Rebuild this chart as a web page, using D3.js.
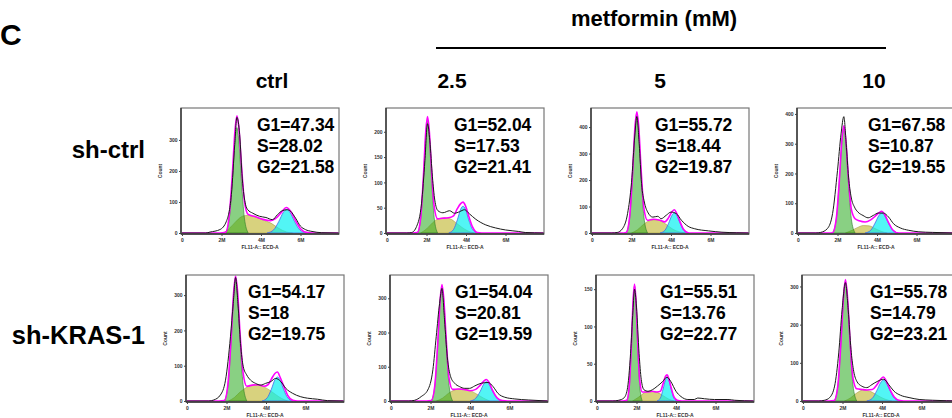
<!DOCTYPE html>
<html>
<head>
<meta charset="utf-8">
<script src="https://cdn.jsdelivr.net/npm/d3@7"></script>
<style>
body { margin: 0; background: #fff; }
svg { display: block; font-family: Arial, "Liberation Sans", Helvetica, sans-serif; }
</style>
</head>
<body>
<svg id="chart" width="952" height="418"></svg>
<script>
// labels
var rowNames = ["sh-ctrl", "sh-KRAS-1"];
var doseNames = ["ctrl", "2.5", "5", "10"];

// panel order: sh-ctrl ctrl/2.5/5/10, then sh-KRAS-1 ctrl/2.5/5/10
var g1Text = ["47.34", "52.04", "55.72", "67.58", "54.17", "54.04", "55.51", "55.78"];
var sText  = ["28.02", "17.53", "18.44", "10.87", "18", "20.81", "13.76", "14.79"];
var g2Text = ["21.58", "21.41", "19.87", "19.55", "19.75", "19.59", "22.77", "23.21"];

// axes
var yMax = [403, 247, 472, 420, 357, 368, 169, 330];
var yTicks = [[0, 100, 200, 300], [0, 50, 100, 150, 200], [0, 100, 200, 300, 400], [0, 100, 200, 300, 400],
              [0, 100, 200, 300], [0, 100, 200, 300], [0, 50, 100, 150], [0, 100, 200, 300]];
var xTicks = [0, 2, 4, 6];          // millions, FL11-A
var xTickLabels = ["0", "2M", "4M", "6M"];

// measured histogram (black), [FL11-A in M, count]
var histCounts = [
 [[0,0],[1.2,0],[1.42,3],[1.92,11],[2.25,38],[2.5,124],[2.67,285],[2.78,373],[2.92,317],[3.05,177],[3.22,91],[3.33,75],[3.58,64],[3.92,54],[4.25,50],[4.58,43],[4.83,59],[5.08,72],[5.33,75],[5.5,70],[5.75,48],[6.0,22],[6.25,11],[6.58,5],[7.08,1],[7.95,0]],
 [[0,0],[1.0,0],[1.25,1],[1.5,13],[1.75,59],[1.92,143],[2.05,216],[2.17,182],[2.3,111],[2.42,65],[2.58,44],[2.83,40],[3.17,44],[3.42,39],[3.67,42],[3.92,46],[4.17,38],[4.5,27],[5.0,16],[5.5,10],[6.0,6],[6.67,3],[7.0,1],[7.95,0]],
 [[0,0],[1.0,0],[1.28,2],[1.54,16],[1.8,73],[2.0,190],[2.17,370],[2.27,440],[2.39,337],[2.51,186],[2.65,117],[2.82,79],[3.08,60],[3.33,63],[3.5,54],[3.76,67],[4.0,79],[4.27,73],[4.53,48],[4.87,25],[5.2,16],[5.9,8],[6.58,3],[7.3,1],[7.95,0]],
 [[0,0],[0.9,0],[1.15,2],[1.49,15],[1.75,65],[2.0,210],[2.18,333],[2.32,391],[2.44,300],[2.56,188],[2.69,121],[2.86,87],[3.04,70],[3.29,59],[3.55,51],[3.81,59],[4.07,67],[4.32,67],[4.58,54],[4.84,31],[5.18,17],[5.61,9],[6.12,4],[6.8,2],[7.95,0]],
 [[0,0],[1.1,0],[1.36,3],[1.69,17],[1.95,59],[2.2,182],[2.34,276],[2.46,350],[2.58,276],[2.71,163],[2.85,97],[3.02,74],[3.22,59],[3.47,50],[3.73,45],[3.98,50],[4.24,55],[4.49,64],[4.75,55],[5.0,36],[5.34,22],[5.76,12],[6.1,8],[6.61,5],[7.12,1],[7.95,0]],
 [[0,0],[0.9,0],[1.19,2],[1.53,13],[1.86,32],[2.12,91],[2.29,188],[2.46,285],[2.58,329],[2.71,237],[2.85,129],[3.02,71],[3.22,52],[3.47,42],[3.73,37],[3.98,37],[4.24,44],[4.58,52],[4.92,54],[5.17,42],[5.42,22],[5.76,11],[6.27,6],[6.95,3],[7.95,0]],
 [[0,0],[0.8,0],[1.1,1],[1.36,4],[1.53,15],[1.7,64],[1.82,121],[1.9,150],[2.0,126],[2.13,64],[2.24,29],[2.38,15],[2.58,13],[2.8,15],[3.06,20],[3.32,26],[3.54,32],[3.74,26],[4.0,13],[4.25,6],[4.6,2],[4.93,2],[5.1,4],[5.44,3],[5.95,2],[6.63,2],[6.97,1],[7.95,0]],
 [[0,0],[0.8,0],[1.09,2],[1.35,9],[1.6,39],[1.81,126],[1.98,239],[2.15,310],[2.29,239],[2.43,135],[2.55,83],[2.72,52],[2.97,39],[3.23,35],[3.49,43],[3.79,52],[4.09,57],[4.34,43],[4.6,26],[4.94,15],[5.37,9],[5.88,4],[6.56,2],[7.95,0]]
];

// fitted cell-cycle model
var g1Fit = [
 [[2.21,0],[2.40,48],[2.55,167],[2.685,299],[2.78,340],[2.875,299],[3.01,167],[3.16,48],[3.35,0]],
 [[1.54,0],[1.71,30],[1.846,109],[1.965,195],[2.05,222],[2.135,195],[2.254,109],[2.39,30],[2.56,0]],
 [[1.73,0],[1.91,60],[2.054,219],[2.18,393],[2.27,448],[2.36,393],[2.486,219],[2.63,60],[2.81,0]],
 [[1.75,0],[1.94,48],[2.092,174],[2.225,312],[2.32,355],[2.415,312],[2.548,174],[2.70,48],[2.89,0]],
 [[1.89,0],[2.08,47],[2.232,169],[2.365,302],[2.46,344],[2.555,302],[2.688,169],[2.84,47],[3.03,0]],
 [[2.04,0],[2.22,45],[2.364,164],[2.49,293],[2.58,334],[2.67,293],[2.796,164],[2.94,45],[3.12,0]],
 [[1.51,0],[1.64,21],[1.744,76],[1.835,136],[1.9,154],[1.965,136],[2.056,76],[2.16,21],[2.29,0]],
 [[1.58,0],[1.77,42],[1.922,153],[2.055,273],[2.15,312],[2.245,273],[2.378,153],[2.53,42],[2.72,0]]
];
var sFit = [
 [[2.1,0],[2.4,15],[2.7,35],[3.0,52],[3.3,57],[3.7,52],[4.1,42],[4.5,32],[4.9,15],[5.3,3],[5.6,0]],
 [[1.7,0],[2.0,8],[2.3,20],[2.6,28],[2.9,30],[3.2,28],[3.5,20],[3.8,11],[4.1,4],[4.4,0]],
 [[2.0,0],[2.3,12],[2.6,32],[2.9,46],[3.2,50],[3.5,45],[3.8,30],[4.1,14],[4.4,5],[4.7,0]],
 [[2.4,0],[2.7,8],[3.0,18],[3.3,25],[3.6,24],[3.9,15],[4.2,6],[4.5,0]],
 [[2.1,0],[2.4,10],[2.7,26],[3.0,38],[3.3,45],[3.6,46],[3.9,40],[4.2,30],[4.5,18],[4.8,7],[5.1,0]],
 [[2.3,0],[2.6,8],[2.9,22],[3.2,32],[3.5,35],[3.8,34],[4.1,28],[4.4,18],[4.7,8],[5.0,0]],
 [[1.8,0],[2.1,5],[2.4,11],[2.7,13],[3.0,12],[3.3,8],[3.6,3],[3.9,0]],
 [[2.1,0],[2.4,8],[2.7,20],[3.0,28],[3.3,27],[3.6,20],[3.9,11],[4.2,4],[4.5,0]]
];
var g2Fit = [
 [[4.31,0],[4.64,10],[4.90,37],[5.135,67],[5.3,76],[5.465,67],[5.70,37],[5.96,10],[6.29,0]],
 [[3.13,0],[3.37,7],[3.562,26],[3.73,47],[3.85,53],[3.97,47],[4.138,26],[4.33,7],[4.57,0]],
 [[3.45,0],[3.69,10],[3.88,37],[4.05,67],[4.17,76],[4.29,67],[4.46,37],[4.65,10],[4.89,0]],
 [[3.40,0],[3.68,9],[3.90,33],[4.10,59],[4.24,67],[4.38,59],[4.58,33],[4.80,9],[5.08,0]],
 [[3.80,0],[4.06,9],[4.268,33],[4.45,60],[4.58,68],[4.71,60],[4.892,33],[5.10,9],[5.36,0]],
 [[4.02,0],[4.29,8],[4.506,27],[4.695,49],[4.83,56],[4.965,49],[5.154,27],[5.37,8],[5.64,0]],
 [[3.04,0],[3.21,4],[3.346,16],[3.465,28],[3.55,32],[3.635,28],[3.754,16],[3.89,4],[4.06,0]],
 [[3.23,0],[3.51,7],[3.734,27],[3.93,48],[4.07,55],[4.21,48],[4.406,27],[4.63,7],[4.91,0]]
];
var totalFit = [
 [[0,0],[1.9,0],[2.2,2],[2.4,62],[2.55,190],[2.685,332],[2.78,378],[2.875,342],[3.01,218],[3.16,103],[3.35,60],[3.7,53],[4.1,44],[4.5,40],[4.8,50],[5.05,68],[5.28,82],[5.5,70],[5.75,40],[6.0,14],[6.3,2],[6.6,0],[7.95,0]],
 [[0,0],[1.3,0],[1.54,1],[1.71,32],[1.846,113],[1.965,202],[2.05,230],[2.135,205],[2.254,125],[2.39,52],[2.56,28],[2.8,29],[3.1,30],[3.37,34],[3.56,48],[3.73,58],[3.85,61],[3.97,54],[4.14,33],[4.33,12],[4.57,1],[4.8,0],[7.95,0]],
 [[0,0],[1.5,0],[1.73,2],[1.91,64],[2.054,228],[2.18,405],[2.27,458],[2.36,408],[2.486,240],[2.63,92],[2.81,48],[3.1,52],[3.45,48],[3.69,42],[3.88,58],[4.05,80],[4.17,88],[4.29,74],[4.46,42],[4.65,12],[4.9,0],[7.95,0]],
 [[0,0],[1.5,0],[1.75,1],[1.94,49],[2.092,176],[2.225,314],[2.32,360],[2.415,318],[2.548,190],[2.70,80],[2.89,48],[3.1,41],[3.4,37],[3.68,44],[3.9,56],[4.1,68],[4.24,73],[4.38,63],[4.58,36],[4.80,10],[5.08,0],[7.95,0]],
 [[0,0],[1.6,0],[1.89,1],[2.08,52],[2.232,176],[2.365,310],[2.46,354],[2.555,314],[2.688,190],[2.84,80],[3.03,42],[3.3,45],[3.6,46],[3.9,42],[4.1,46],[4.27,62],[4.45,78],[4.58,82],[4.71,68],[4.9,42],[5.1,16],[5.36,2],[5.6,0],[7.95,0]],
 [[0,0],[1.8,0],[2.04,1],[2.22,46],[2.364,166],[2.49,296],[2.58,340],[2.67,300],[2.796,180],[2.94,66],[3.12,34],[3.4,35],[3.7,34],[4.0,30],[4.29,34],[4.5,45],[4.7,58],[4.83,63],[4.965,54],[5.15,30],[5.37,9],[5.64,1],[5.9,0],[7.95,0]],
 [[0,0],[1.3,0],[1.51,1],[1.64,22],[1.744,78],[1.835,138],[1.9,157],[1.965,139],[2.056,82],[2.16,29],[2.29,12],[2.5,12],[2.8,13],[3.04,12],[3.21,13],[3.346,23],[3.465,33],[3.55,35],[3.635,30],[3.754,18],[3.89,6],[4.06,1],[4.3,0],[7.95,0]],
 [[0,0],[1.3,0],[1.58,1],[1.77,43],[1.922,155],[2.055,276],[2.15,318],[2.245,278],[2.378,162],[2.53,60],[2.72,32],[3.0,30],[3.23,29],[3.51,30],[3.734,42],[3.93,57],[4.07,63],[4.21,53],[4.406,30],[4.63,10],[4.91,1],[5.1,0],[7.95,0]]
];

// layout
var panelLeft = [181, 386, 591, 797, 186, 390, 596, 802];
var panelTop  = [108, 108, 108, 108, 275, 275, 275, 275];
var panelH    = [126, 126, 126, 126, 127, 127, 127, 127];
var panelW    = 158;
var labelDx   = [76, 68, 64, 71, 62, 65, 64, 68];

var svg = d3.select("#chart");

// figure letter + header
svg.append("text").attr("x", 0).attr("y", 45)
  .style("font-size", "30px").style("font-weight", "bold").text("C");

svg.append("text").attr("x", 654).attr("y", 26).attr("text-anchor", "middle")
  .style("font-size", "22px").style("font-weight", "bold").text("metformin (mM)");
svg.append("line").attr("x1", 436).attr("x2", 886).attr("y1", 48).attr("y2", 48)
  .attr("stroke", "#000").attr("stroke-width", 2);

var headX = [272, 452, 660, 874];
svg.selectAll(".dose").data(doseNames).enter().append("text")
  .attr("class", "dose")
  .attr("x", function(d, i) { return headX[i]; })
  .attr("y", 88)
  .attr("text-anchor", "middle")
  .style("font-size", "21px").style("font-weight", "bold")
  .text(function(d) { return d; });

var rowY = [158, 344];
var rowSize = [24, 25.5];
svg.selectAll(".row").data(rowNames).enter().append("text")
  .attr("class", "row")
  .attr("x", 145)
  .attr("y", function(d, i) { return rowY[i]; })
  .attr("text-anchor", "end")
  .style("font-size", function(d, i) { return rowSize[i] + "px"; })
  .style("font-weight", "bold")
  .text(function(d) { return d; });

var x = d3.scaleLinear().domain([0, 8]).range([1, panelW + 1]);

for (var i = 0; i < 8; i++) {
  var h = panelH[i];
  var y = d3.scaleLinear().domain([0, yMax[i]]).range([h - 1, 0]);
  var g = svg.append("g").attr("transform", "translate(" + panelLeft[i] + "," + panelTop[i] + ")");

  g.append("clipPath").attr("id", "clip" + i)
    .append("rect").attr("x", 0).attr("y", 0).attr("width", panelW).attr("height", h);

  var area = d3.area()
    .x(function(d) { return x(d[0]); })
    .y0(y(0))
    .y1(function(d) { return y(d[1]); })
    .curve(d3.curveMonotoneX);
  var line = d3.line()
    .x(function(d) { return x(d[0]); })
    .y(function(d) { return y(d[1]); })
    .curve(d3.curveMonotoneX);

  var plot = g.append("g").attr("clip-path", "url(#clip" + i + ")");
  plot.append("path").datum(sFit[i]).attr("d", area)
    .attr("fill", "rgb(190,180,40)").attr("fill-opacity", 0.6)
    .attr("stroke", "#9a9030").attr("stroke-width", 0.5);
  plot.append("path").datum(g1Fit[i]).attr("d", area)
    .attr("fill", "rgb(40,170,30)").attr("fill-opacity", 0.55)
    .attr("stroke", "#2d7a28").attr("stroke-width", 0.6);
  plot.append("path").datum(g2Fit[i]).attr("d", area)
    .attr("fill", "rgb(0,240,240)").attr("fill-opacity", 0.68)
    .attr("stroke", "#4a66e8").attr("stroke-width", 0.8);
  plot.append("path").datum(totalFit[i]).attr("d", line)
    .attr("fill", "none").attr("stroke", "#ff00ff").attr("stroke-width", 1.6);
  plot.append("path").datum(histCounts[i]).attr("d", line)
    .attr("fill", "none").attr("stroke", "#1a1a1a").attr("stroke-width", 1);

  // frame
  g.append("rect").attr("x", 0).attr("y", 0).attr("width", panelW).attr("height", h)
    .attr("fill", "none").attr("stroke", "#777").attr("stroke-width", 1.2);
  g.append("line").attr("x1", 0).attr("x2", 0).attr("y1", 0).attr("y2", h)
    .attr("stroke", "#333").attr("stroke-width", 1.4);
  g.append("line").attr("x1", 0).attr("x2", panelW).attr("y1", h).attr("y2", h)
    .attr("stroke", "#333").attr("stroke-width", 1.4);

  // axes
  var ya = g.append("g").call(d3.axisLeft(y).tickValues(yTicks[i]).tickSize(2).tickPadding(1.5));
  var xa = g.append("g").attr("transform", "translate(0," + h + ")")
    .call(d3.axisBottom(x).tickValues(xTicks).tickSize(2).tickPadding(2)
      .tickFormat(function(d, k) { return xTickLabels[k]; }));
  [ya, xa].forEach(function(a) {
    a.select(".domain").remove();
    a.selectAll("line").attr("stroke", "#444");
    a.selectAll("text").attr("fill", "#333").style("font-size", "5px").style("font-weight", "bold");
    a.attr("font-size", null);
  });

  g.append("text").attr("transform", "translate(-19," + (h / 2) + ") rotate(-90)")
    .attr("text-anchor", "middle").attr("fill", "#333")
    .style("font-size", "5px").style("font-weight", "bold").text("Count");
  g.append("text").attr("x", panelW / 2).attr("y", h + 15)
    .attr("text-anchor", "middle").attr("fill", "#333")
    .style("font-size", "5px").style("font-weight", "bold").text("FL11-A:: ECD-A");

  // phase percentages
  var lines = ["G1=" + g1Text[i], "S=" + sText[i], "G2=" + g2Text[i]];
  lines.forEach(function(t, k) {
    g.append("text").attr("x", labelDx[i]).attr("y", 22.5 + k * 21.4)
      .style("font-size", "17.5px").style("font-weight", "bold").attr("fill", "#000")
      .text(t);
  });
}
</script>
</body>
</html>
